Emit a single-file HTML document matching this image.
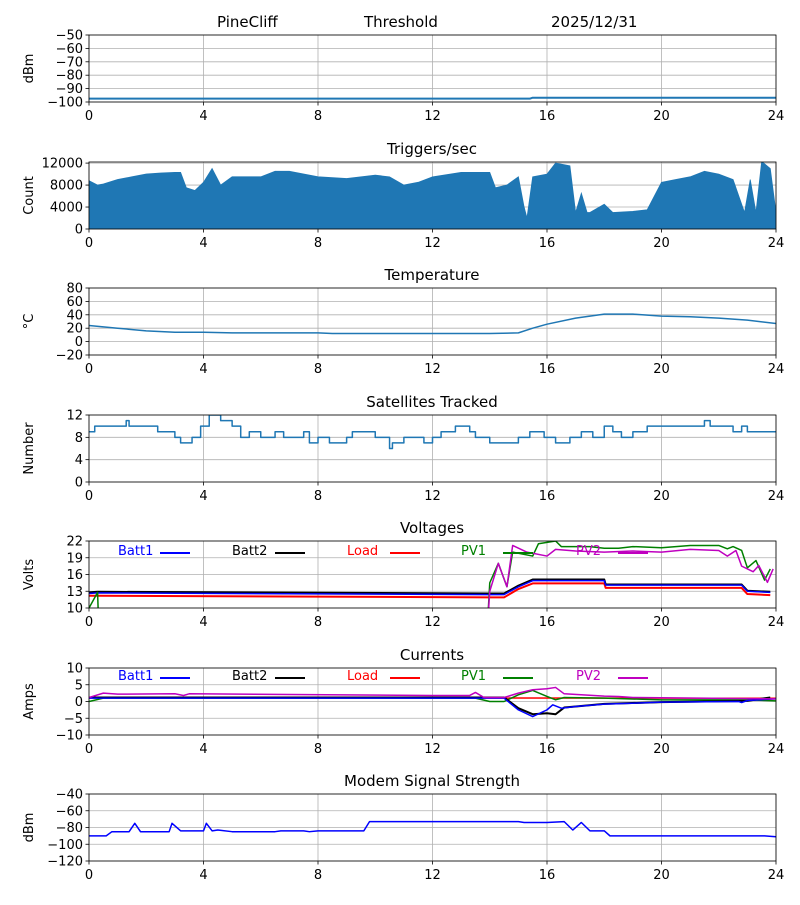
<!DOCTYPE html>
<html><head><meta charset="utf-8"><style>
body{margin:0;background:#fff;font-family:"Liberation Sans","DejaVu Sans",sans-serif}
svg text{font-family:"DejaVu Sans","Liberation Sans",sans-serif}
</style></head><body>
<svg id="c" width="800" height="900" viewBox="0 0 800 900" xmlns="http://www.w3.org/2000/svg">
<text x="217" y="27" font-size="15">PineCliff</text>
<text x="364" y="27" font-size="15">Threshold</text>
<text x="551" y="27" font-size="15">2025/12/31</text>
</svg>
<script>
const xTicks=[0,4,8,12,16,20,24];
const sigX=[0,15.4,15.5,24];
const sigY=[-97.5,-97.5,-96.8,-96.8];
const trgX=[0,0.3,0.5,1,1.5,2,2.5,3,3.2,3.4,3.7,4,4.3,4.6,5,6,6.5,7,8,9,10,10.5,11,11.5,12,13,14,14.2,14.6,15,15.2,15.3,15.5,16,16.3,16.8,17,17.2,17.4,17.5,18,18.3,19,19.5,20,20.5,21,21.5,22,22.5,22.9,23.1,23.3,23.5,23.8,24];
const trgY=[8800,8000,8200,9000,9500,10000,10200,10300,10300,7500,7000,8500,11000,8000,9500,9500,10500,10500,9500,9200,9800,9500,8000,8500,9500,10300,10300,7500,8000,9500,4000,2000,9500,10000,12000,11500,3000,6500,3000,3000,4500,3000,3200,3500,8500,9000,9500,10500,10000,9000,3000,9000,3000,12300,11000,3000];
const tmpX=[0,1,2,3,4,5,8,8.5,12,14,15,15.5,16,17,18,19,20,21,22,23,24];
const tmpY=[24,20,16,14,14,13,13,12,12,12,13,20,26,35,41,41,38,37,35,32,27];
const satX=[0,0.2,1.3,1.4,2.4,3,3.2,3.6,3.9,4.2,4.6,5,5.3,5.6,6,6.5,6.8,7.5,7.7,8,8.4,9,9.2,10,10.5,10.6,11,11.7,12,12.3,12.8,13.3,13.5,14,14.7,15,15.4,15.9,16.3,16.8,17.2,17.6,18,18.3,18.6,19,19.5,21.5,21.7,22.5,22.8,23,24];
const satY=[9,10,11,10,9,8,7,8,10,12,11,10,8,9,8,9,8,9,7,8,7,8,9,8,6,7,8,7,8,9,10,9,8,7,7,8,9,8,7,8,9,8,10,9,8,9,10,11,10,9,10,9,9];
const vB1X=[0,0.3,14,14.5,15,15.5,18,18.05,22.8,23,23.8];
const vB1Y=[12.6,12.7,12.4,12.4,13.8,14.9,14.9,14.1,14.1,13,12.8];
const vB2Y=[12.8,12.9,12.6,12.6,14,15.1,15.1,14.2,14.2,13.1,12.9];
const vLdX=[0,0.3,14,14.5,15,15.5,18,18.05,22.8,23,23.8];
const vLdY=[12.2,12.2,11.9,11.9,13.4,14.4,14.4,13.6,13.6,12.5,12.3];
const vP1X=[0,0.3,0.35,13.9,14,14.3,14.6,14.8,15.5,15.7,16.3,16.5,17.5,18,18.5,19,20,21,22,22.3,22.5,22.8,23,23.3,23.6,23.8];
const vP1Y=[10,12.8,5,5,14.5,18,13.8,20,19.3,21.5,22,21,21,20.7,20.7,21,20.8,21.2,21.2,20.6,21,20.3,17.2,18.5,15,17];
const vP2X=[13.9,14,14.3,14.6,14.8,15.3,16,16.3,17,18,19,20,21,22,22.3,22.6,22.8,23.2,23.4,23.7,23.9];
const vP2Y=[5,13,18,13.8,21.2,20,19.3,20.5,20.2,20,20.2,20,20.5,20.3,19.3,20.3,17.5,16.5,17.6,14.6,17];
const cB1X=[0,14.5,15,15.5,16,16.2,16.5,17,18,20,22.7,22.8,23,24];
const cB1Y=[1,1,-2.5,-4.5,-2.5,-1,-2,-1.5,-0.8,-0.2,0,-0.3,0.3,0.8];
const cB2X=[0,14.5,15,15.5,16,16.3,16.6,17,18,20,23,23.8];
const cB2Y=[1.2,1.2,-2,-3.8,-3.5,-3.8,-1.8,-1.5,-0.7,-0.2,0.2,1.2];
const cLdX=[0,24];
const cLdY=[1.1,1.0];
const cP1X=[0,0.5,13.5,14,14.5,15,15.5,16,16.3,16.6,18,20,23,24];
const cP1Y=[0,1,1,0,0,2,3.3,1.5,0.5,1.2,1,0.5,0.5,0.2];
const cP2X=[0,0.5,1,3,3.3,3.5,7,12,13.3,13.5,13.8,14.5,15,15.5,16,16.3,16.6,18,18.5,19,24];
const cP2Y=[1.2,2.5,2.2,2.3,1.8,2.3,2.1,1.8,1.8,2.7,1.2,1.2,2.5,3.5,3.8,4.2,2.3,1.6,1.5,1.2,0.8];
const modX=[0,0.6,0.8,1.4,1.6,1.8,2.8,2.9,3.2,4,4.1,4.3,4.5,5,6.5,6.7,7.5,7.7,8,9.6,9.8,15,15.2,16,16.6,16.9,17.2,17.5,18,18.2,23.6,24];
const modY=[-90,-90,-85,-85,-75,-85,-85,-75,-84,-84,-75,-84,-83,-85,-85,-84,-84,-85,-84,-84,-73,-73,-74,-74,-73,-83,-74,-84,-84,-90,-90,-91];

const NS='http://www.w3.org/2000/svg',svg=document.getElementById('c');
const X0=89,X1=776,H=67;
function mk(t,a,p){const e=document.createElementNS(NS,t);for(const k in a)e.setAttribute(k,a[k]);(p||svg).appendChild(e);return e;}
const sx=v=>X0+(X1-X0)*v/24;
const fmt=v=>String(v).replace('-','\u2212');
let clipN=0;
function panel(name,top,ymin,ymax,yticks,title,ylab){
  const g=mk('g',{});
  
  
  const sy=v=>top+H-(v-ymin)/(ymax-ymin)*H;
  xTicks.forEach(t=>{const l=mk('line',{x1:sx(t),x2:sx(t),y1:top,y2:top+H,stroke:'#b0b0b0','stroke-width':0.8},g);
    
    mk('line',{x1:sx(t),x2:sx(t),y1:top+H,y2:top+H+3.5,stroke:'#000','stroke-width':0.8},g);
    const tx=mk('text',{x:sx(t),y:top+H+18,'font-size':13,'text-anchor':'middle'},g);tx.textContent=t;
    });
  yticks.forEach(t=>{const y=sy(t);const l=mk('line',{x1:X0,x2:X1,y1:y,y2:y,stroke:'#b0b0b0','stroke-width':0.8},g);
    
    mk('line',{x1:X0-3.5,x2:X0,y1:y,y2:y,stroke:'#000','stroke-width':0.8},g);
    const tx=mk('text',{x:X0-6,y:y+4.5,'font-size':13,'text-anchor':'end'},g);tx.textContent=fmt(t);
    });
  const tt=mk('text',{x:432,y:top-8,'font-size':15,'text-anchor':'middle'},g);tt.textContent=title;
  
  const yl=mk('text',{x:0,y:0,'font-size':13,'text-anchor':'middle',transform:`translate(33,${top+H/2}) rotate(-90)`},g);yl.textContent=ylab;
  
  const id='cl'+(clipN++);const cp=mk('clipPath',{id},g);mk('rect',{x:X0,y:top,width:X1-X0,height:H},cp);
  const dg=mk('g',{'clip-path':`url(#${id})`},g);
  return {g,dg,sy,top,frame:()=>mk('rect',{x:X0,y:top,width:X1-X0,height:H,fill:'none',stroke:'#000','stroke-width':0.8},g)};
}
function line(p,xs,ys,col,w,nm,step){
  let d='';xs.forEach((x,i)=>{if(step&&i>0)d+='L'+sx(x)+','+p.sy(ys[i-1]);d+=(i?'L':'M')+sx(x)+','+p.sy(ys[i]);});
  const e=mk('path',{d,fill:'none',stroke:col,'stroke-width':w||1.5,'stroke-linejoin':'round'},p.dg);
  return e;
}
function legend(p,y){
  const L=[['Batt1','#0000ff',118,160],['Batt2','#000',232,275],['Load','#ff0000',347,390],['PV1','#008000',461,503],['PV2','#bf00bf',576,618]];
  L.forEach(([t,c,tx,lx])=>{const e=mk('text',{x:tx,y:y+4,'font-size':13,fill:c},p.g);e.textContent=t;
    
    mk('line',{x1:lx,x2:lx+30,y1:y+2,y2:y+2,stroke:c,'stroke-width':2},p.g);});
}
const blue='#1f77b4';
let p=panel('signal',35,-100,-50,[-50,-60,-70,-80,-90,-100],'','dBm');
line(p,sigX,sigY,blue,2,'signal-line');p.frame();

p=panel('triggers',162,0,12200,[0,4000,8000,12000],'Triggers/sec','Count');
{let d='M'+sx(0)+','+p.sy(0);trgX.forEach((x,i)=>d+='L'+sx(x)+','+p.sy(trgY[i]));d+='L'+sx(24)+','+p.sy(0)+'Z';
 const e=mk('path',{d,fill:blue,stroke:blue,'stroke-width':0.8},p.dg);}
p.frame();

p=panel('temperature',288,-20,80,[80,60,40,20,0,-20],'Temperature','°C');
line(p,tmpX,tmpY,blue,1.5,'temperature-line');p.frame();

p=panel('satellites',415,0,12,[12,8,4,0],'Satellites Tracked','Number');
line(p,satX,satY,blue,1.5,'satellites-line',true);p.frame();

p=panel('voltages',541,10,22,[22,19,16,13,10],'Voltages','Volts');
line(p,vLdX,vLdY,'#ff0000',2,'load-voltage-line');
line(p,vB1X,vB2Y,'#000',2,'batt2-voltage-line');
line(p,vB1X,vB1Y,'#0000ff',1.5,'batt1-voltage-line');
line(p,vP1X,vP1Y,'#008000',1.5,'pv1-voltage-line');
line(p,vP2X,vP2Y,'#bf00bf',1.5,'pv2-voltage-line');
legend(p,551);p.frame();

p=panel('currents',668,-10,10,[10,5,0,-5,-10],'Currents','Amps');
line(p,cLdX,cLdY,'#ff0000',1.5,'load-current-line');
line(p,cP1X,cP1Y,'#008000',1.5,'pv1-current-line');
line(p,cB2X,cB2Y,'#000',2,'batt2-current-line');
line(p,cB1X,cB1Y,'#0000ff',1.5,'batt1-current-line');
line(p,cP2X,cP2Y,'#bf00bf',1.5,'pv2-current-line');
legend(p,676);p.frame();

p=panel('modem',794,-120,-40,[-40,-60,-80,-100,-120],'Modem Signal Strength','dBm');
line(p,modX,modY,'#0000ff',1.5,'modem-signal-line');p.frame();
</script>
</body></html>
